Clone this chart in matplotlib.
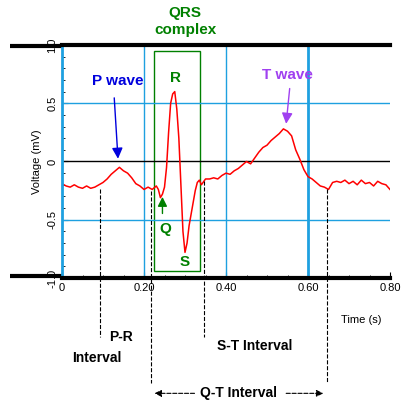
import matplotlib
matplotlib.use("Agg")
import matplotlib.pyplot as plt
from matplotlib.ticker import MultipleLocator

t = [0.00,0.01,0.02,0.03,0.04,0.05,0.06,0.07,0.08,0.09,0.10,0.11,0.12,0.13,0.14,0.15,0.16,0.17,0.18,0.19,
     0.20,0.21,0.22,0.23,0.235,0.24,0.245,0.25,0.255,0.26,0.265,0.27,0.275,0.28,0.285,0.29,0.295,0.30,0.305,
     0.31,0.315,0.32,0.325,0.33,0.335,0.34,0.35,0.36,0.37,0.38,0.39,0.40,0.41,0.42,0.43,0.44,0.45,0.46,0.47,
     0.48,0.49,0.50,0.51,0.52,0.53,0.54,0.55,0.56,0.57,0.58,0.59,0.60,0.61,0.62,0.63,0.64,0.65,0.66,0.67,
     0.68,0.69,0.70,0.71,0.72,0.73,0.74,0.75,0.76,0.77,0.78,0.79,0.80]
v = [-0.19,-0.21,-0.22,-0.20,-0.22,-0.23,-0.21,-0.23,-0.22,-0.20,-0.18,-0.15,-0.11,-0.08,-0.05,-0.08,-0.10,-0.14,-0.19,-0.21,
     -0.24,-0.22,-0.24,-0.21,-0.24,-0.31,-0.28,-0.22,-0.05,0.25,0.50,0.58,0.60,0.45,0.20,-0.20,-0.60,-0.78,-0.70,
     -0.55,-0.45,-0.35,-0.25,-0.18,-0.16,-0.20,-0.15,-0.15,-0.14,-0.15,-0.12,-0.10,-0.11,-0.08,-0.06,-0.03,0.00,-0.02,0.03,
     0.08,0.12,0.14,0.18,0.21,0.24,0.28,0.26,0.22,0.10,0.02,-0.07,-0.13,-0.15,-0.18,-0.21,-0.22,-0.24,-0.18,-0.17,
     -0.18,-0.16,-0.19,-0.17,-0.20,-0.16,-0.19,-0.18,-0.21,-0.17,-0.19,-0.20,-0.24]
xticks = [0, 0.2, 0.4, 0.6, 0.8]
xlabels = ["0", "0.20", "0.40", "0.60", "0.80"]
yticks = [-1.0, -0.5, 0, 0.5, 1.0]
ylabels = ["-1.0", "-0.5", "0", "0.5", "1.0"]

plt.rcParams['font.family'] = ['Liberation Sans', 'DejaVu Sans']
fig = plt.figure(figsize=(4.11, 4.15), dpi=100)
ax = fig.add_axes([62/411, 137/415, 328/411, 233/415])
ax.set_xlim(0, 0.80)
ax.set_ylim(-0.98, 0.99)
for x in [0.2, 0.4]:
    ax.axvline(x, color='#1ea0e0', lw=1)
ax.axvline(0.6, color='#1ea0e0', lw=2)
for y in [0.5, -0.5]:
    ax.axhline(y, color='#1ea0e0', lw=1)
ax.axhline(0, color='black', lw=1)
ax.plot(t, v, color='red', lw=1.1)

for s in ['top', 'bottom']:
    ax.spines[s].set_linewidth(3)
ax.plot([-0.127, 0], [0.99, 0.99], color='black', lw=3, clip_on=False, solid_capstyle='butt')
ax.plot([-0.127, 0], [-0.98, -0.98], color='black', lw=3, clip_on=False, solid_capstyle='butt')
ax.spines['right'].set_visible(False)
ax.spines['left'].set_color('#1ea0e0'); ax.spines['left'].set_linewidth(2)
ax.set_xticks(xticks); ax.set_xticklabels(xlabels, fontsize=8)
ax.set_yticks(yticks); ax.set_yticklabels(ylabels, fontsize=8, rotation=90, va='center')
ax.xaxis.set_minor_locator(MultipleLocator(0.05))
ax.yaxis.set_minor_locator(MultipleLocator(0.1))
ax.tick_params(direction='in', length=4)
ax.tick_params(which='minor', direction='in', length=2)
ax.set_ylabel("Voltage (mV)", fontsize=8)
ax.text(0.78, -1.36, "Time (s)", fontsize=8, ha='right', va='center', clip_on=False)

g = '#008000'
ax.add_patch(plt.Rectangle((0.224, -0.94), 0.113, 1.89, fill=False, ec=g, lw=1))
ax.text(0.30, 1.20, "QRS\ncomplex", color=g, fontsize=11, fontweight='bold', ha='center', va='center', clip_on=False, linespacing=1.3)
ax.text(0.278, 0.72, "R", color=g, fontsize=11, fontweight='bold', ha='center', va='center')
ax.text(0.251, -0.58, "Q", color=g, fontsize=11, fontweight='bold', ha='center', va='center')
ax.text(0.30, -0.86, "S", color=g, fontsize=11, fontweight='bold', ha='center', va='center')
ax.annotate("", xy=(0.245, -0.28), xytext=(0.245, -0.47),
            arrowprops=dict(arrowstyle='-|>', color=g, lw=1, mutation_scale=14))
ax.text(0.137, 0.69, "P wave", color='#0000dd', fontsize=11, fontweight='bold', ha='center', va='center')
ax.annotate("", xy=(0.137, 0.0), xytext=(0.127, 0.57),
            arrowprops=dict(arrowstyle='-|>', color='#0000dd', lw=1, mutation_scale=16))
ax.text(0.55, 0.74, "T wave", color='#a040f0', fontsize=11, fontweight='bold', ha='center', va='center')
ax.annotate("", xy=(0.546, 0.30), xytext=(0.556, 0.65),
            arrowprops=dict(arrowstyle='-|>', color='#a040f0', lw=1, mutation_scale=16))

for x, y0, y1 in [(0.093, -0.24, -1.51), (0.217, -0.25, -1.9), (0.346, -0.17, -1.51), (0.646, -0.24, -1.9)]:
    ax.plot([x, x], [y0, y1], color='black', ls='--', lw=0.8, clip_on=False)
ax.text(0.145, -1.51, "P-R", fontsize=10, fontweight='bold', ha='center', va='center', clip_on=False)
ax.text(0.085, -1.69, "Interval", fontsize=10, fontweight='bold', ha='center', va='center', clip_on=False)
ax.text(0.47, -1.58, "S-T Interval", fontsize=10, fontweight='bold', ha='center', va='center', clip_on=False)
ax.text(0.43, -1.99, "Q-T Interval", fontsize=10, fontweight='bold', ha='center', va='center', clip_on=False)
ax.annotate("", xy=(0.219, -1.99), xytext=(0.33, -1.99), annotation_clip=False,
            arrowprops=dict(arrowstyle='-|>', ls='--', color='black', lw=0.8))
ax.annotate("", xy=(0.644, -1.99), xytext=(0.54, -1.99), annotation_clip=False,
            arrowprops=dict(arrowstyle='-|>', ls='--', color='black', lw=0.8))
fig.savefig("out.png", dpi=100)
